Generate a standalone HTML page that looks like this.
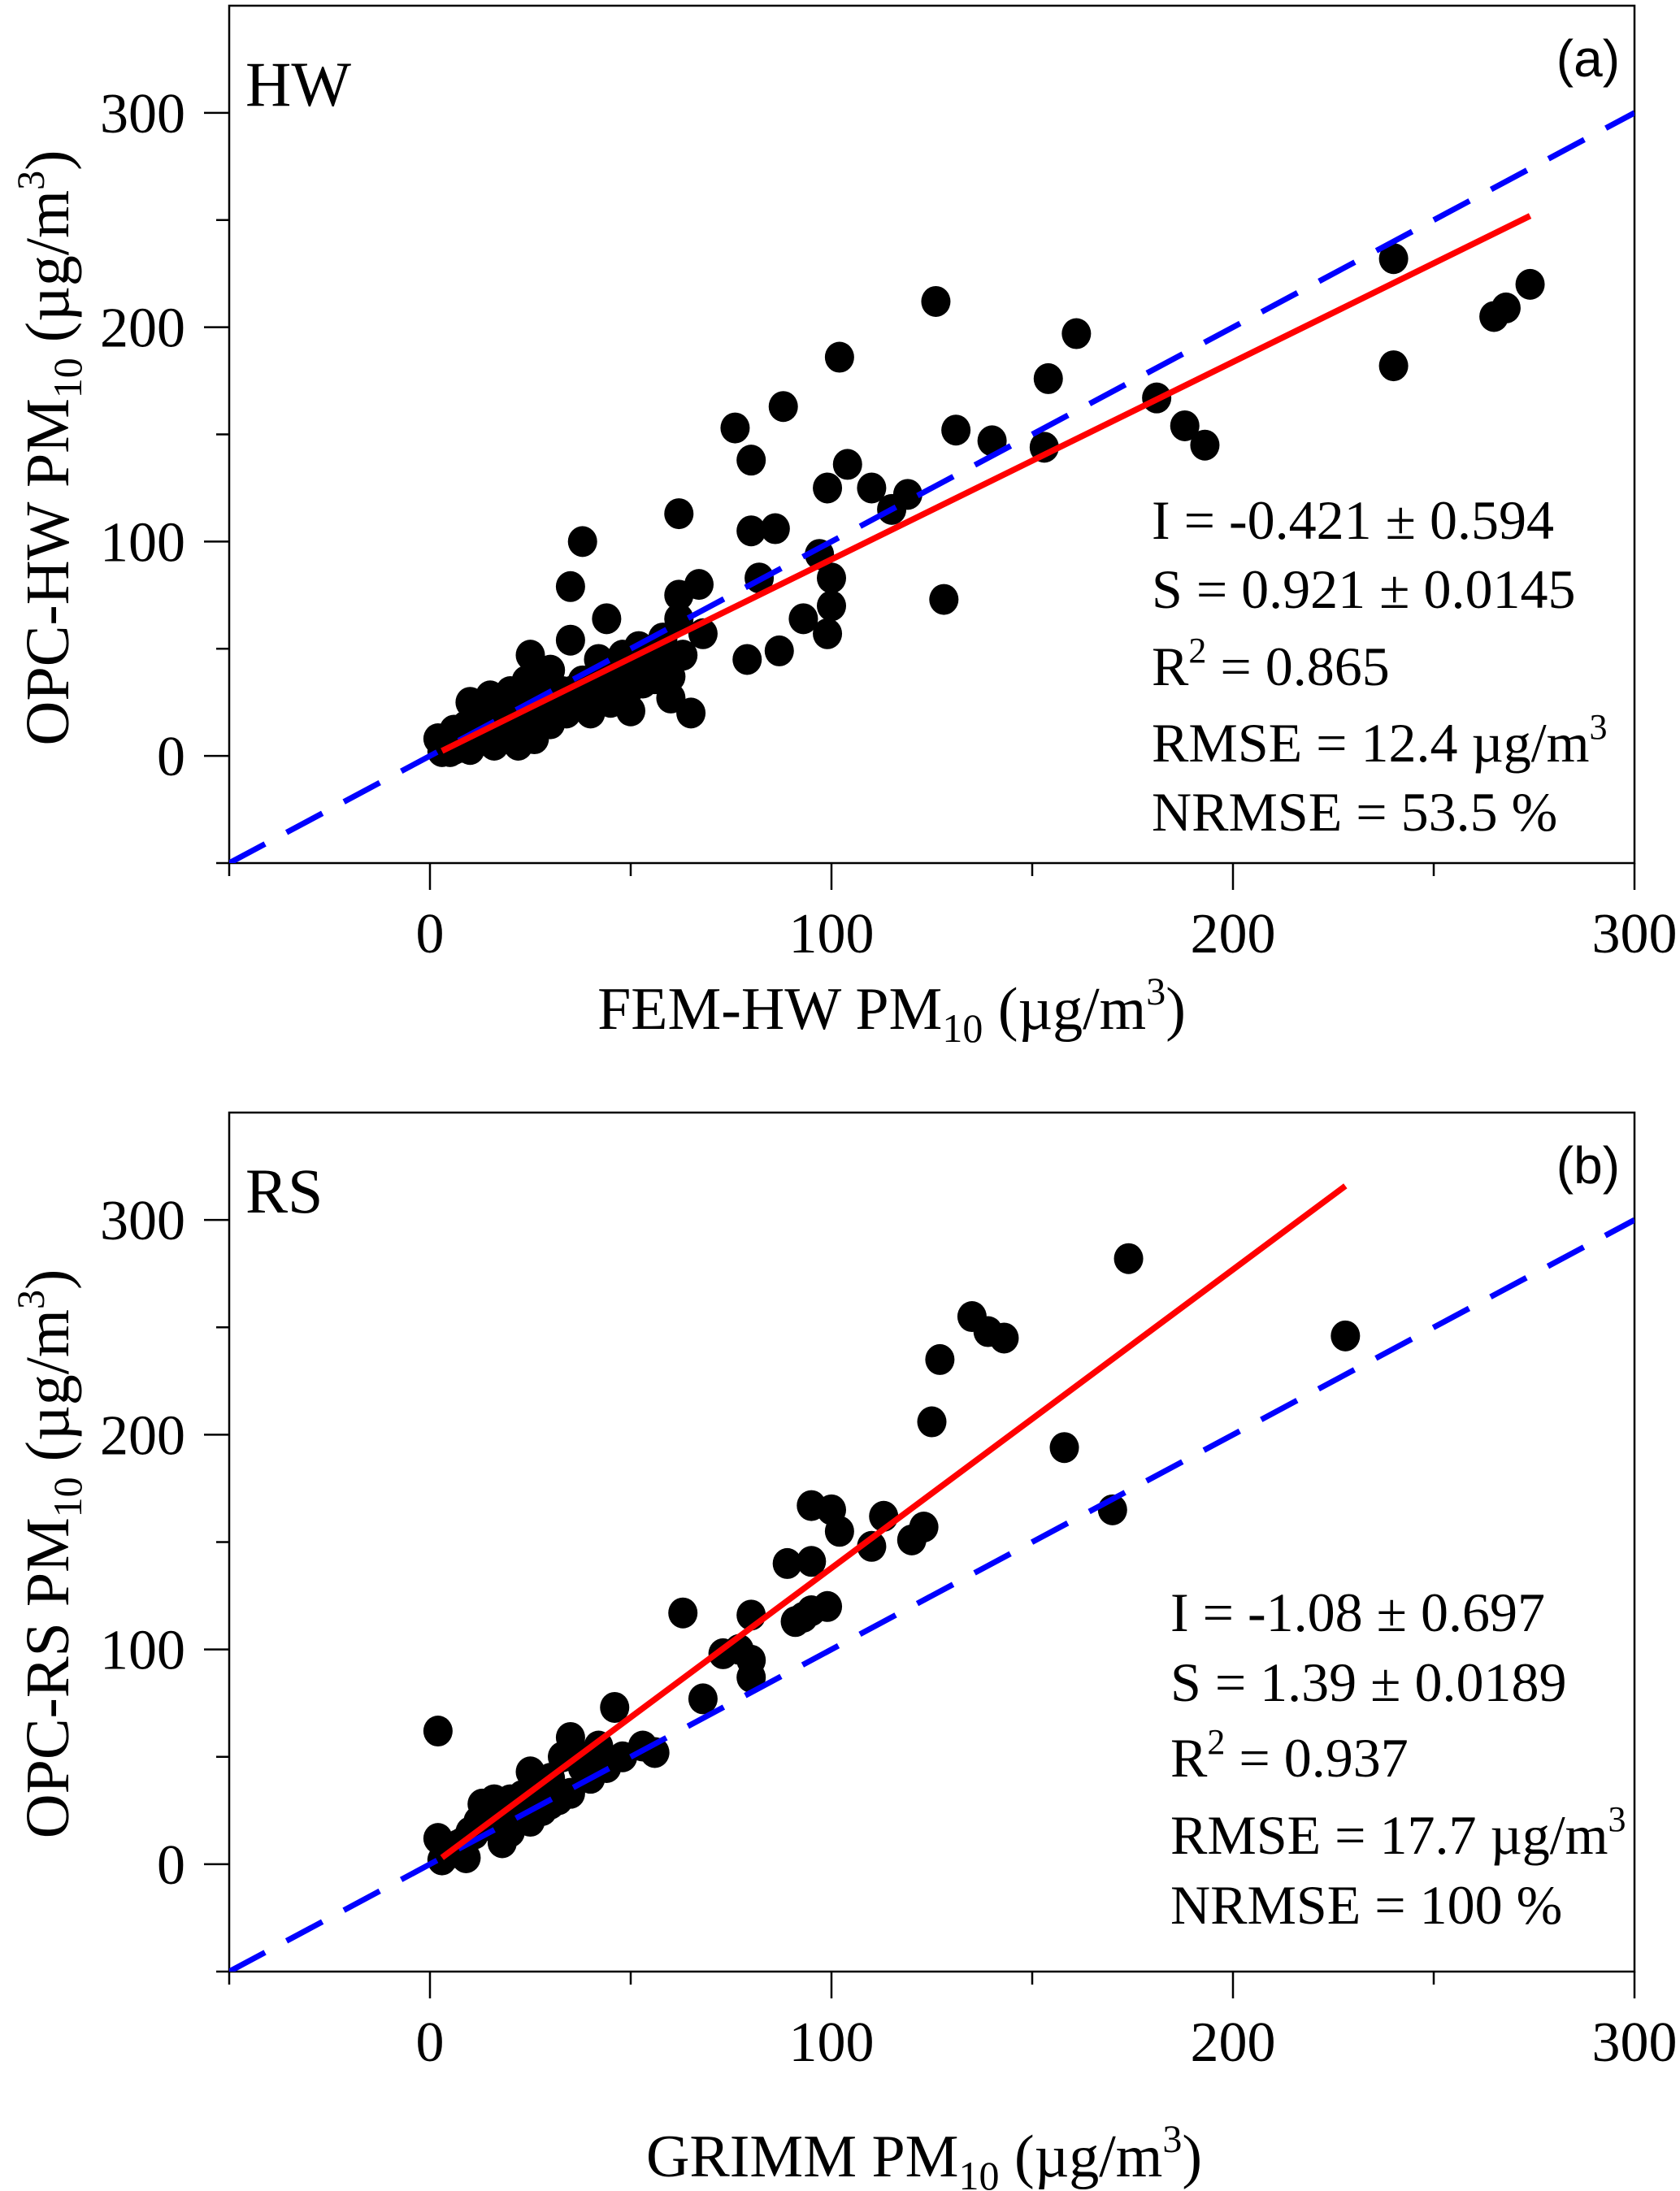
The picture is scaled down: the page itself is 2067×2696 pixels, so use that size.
<!DOCTYPE html>
<html><head><meta charset="utf-8">
<style>
html,body{margin:0;padding:0;background:#fff;}
svg{display:block;}
text{font-family:"Liberation Serif",serif;fill:#000;}
</style></head>
<body>
<svg id="chart" width="2067" height="2696" viewBox="0 0 2067 2696" xmlns="http://www.w3.org/2000/svg">
<g id="panelA"></g>
<g id="panelB"></g>
</svg>
<script>
const axisTicks = [0, 100, 200, 300];
const minorTicks = [-50, 50, 150, 250];
const hwFemX = [240,240,265,268,274,126,102,161,154,88,76,80,131,140,104,110,119,115,153,181,188,193,99,97,100,99,100,128,80,86,82,79,87,93,62,67,62,62,65,68,38,35,44,35,25,48,52,57,63,60,50,45,40,30,28,32,20,15,10,12,18,22,8,5,3,2,6,14,25,30,35,42,40,55,20,16,10,26,34,45,18,24,12,28,38,48,52,58,60,30,4,7,9,11,13,17,19,21,23,27,29,31,33,36,37,41,43,46,5,8,11,14,17,20,23,26,29,32,35,38,41,44,47,50,53,56,3,6,9,15,21,27];
const hwOpcY = [232,182,205,209,220,212,186,197,176,163,153,138,152,147,136,125,122,115,144,167,154,145,125,94,83,57,70,73,105,106,83,45,49,64,113,80,75,64,20,57,100,79,64,54,47,47,51,48,47,37,21,37,30,40,20,25,30,28,25,15,10,5,8,5,2,8,12,20,25,15,30,45,20,40,15,5,3,8,20,25,22,35,8,30,35,30,38,55,27,30,4,10,14,9,18,16,20,24,18,22,26,24,30,28,32,36,33,40,2,4,6,8,10,12,14,16,18,20,22,24,26,28,30,32,34,36,6,3,12,10,14,20];
const rsGrimmX = [2,63,68,73,77,80,80,80,95,100,89,95,91,95,99,93,102,110,113,120,123,125,127,135,139,143,158,170,174,228,46,35,36,40,44,48,53,56,30,25,27,30,20,15,12,10,8,5,3,2,18,22,33,38,25,28,35,16,13,6,9,20,42,32,24,4,7,11,14,17,19,21,23,26,29];
const rsOpcY = [62,117,77,98,100,116,87,95,167,165,140,141,113,118,120,115,155,148,162,151,157,206,235,255,248,245,194,165,282,246,73,59,52,40,45,50,55,52,40,43,35,28,30,25,20,15,10,5,2,12,10,22,50,45,20,25,33,30,28,8,3,15,55,30,28,4,9,14,18,24,26,28,32,34,38];
const fitA = [-0.421, 0.921]; const fitRangeA = [3, 274];
const fitB = [-1.08, 1.39]; const fitRangeB = [3, 228];

const NS = "http://www.w3.org/2000/svg";
function mk(parent, tag, attrs){ const e=document.createElementNS(NS,tag); for(const k in attrs) e.setAttribute(k,attrs[k]); parent.appendChild(e); return e; }

function drawPanel(g, cfg){
  const L=282, R=2011, T=cfg.top, B=cfg.bottom;
  const xs = v => L + (v+50)/350*(R-L);
  const ys = v => B - (v+50)/400*(B-T);
  const f = mk(g,'rect',{x:L,y:T,width:R-L,height:B-T,fill:'none',stroke:'#000','stroke-width':2.5});
   
  axisTicks.forEach(t=>{
    const a=mk(g,'line',{x1:L-31,x2:L,y1:ys(t),y2:ys(t),stroke:'#000','stroke-width':2.5});
     
    const b=mk(g,'line',{x1:xs(t),x2:xs(t),y1:B,y2:B+33,stroke:'#000','stroke-width':2.5});
     
    const yl=mk(g,'text',{x:228,y:ys(t)+24,'text-anchor':'end','font-size':70});
    yl.textContent=t;
     
    const xl=mk(g,'text',{x:xs(t),y:B+110,'text-anchor':'middle','font-size':70});
    xl.textContent=t;
     
  });
  minorTicks.forEach(t=>{
    const a=mk(g,'line',{x1:L-16,x2:L,y1:ys(t),y2:ys(t),stroke:'#000','stroke-width':2.5});
     
    const b=mk(g,'line',{x1:xs(t),x2:xs(t),y1:B,y2:B+16,stroke:'#000','stroke-width':2.5});
     
  });
  const cp=mk(g,'clipPath',{id:cfg.id+'clip'}); mk(cp,'rect',{x:L,y:T,width:R-L,height:B-T});
  const inner=mk(g,'g',{'clip-path':'url(#'+cfg.id+'clip)'});
  cfg.xv.forEach((x,i)=>{
    const c=mk(inner,'ellipse',{cx:xs(x),cy:ys(cfg.yv[i]),rx:18,ry:19,fill:'#000'});
     
  });
  const one=mk(inner,'line',{x1:xs(-50),y1:ys(-50),x2:xs(300),y2:ys(300),stroke:'#0000ff','stroke-width':7,'stroke-dasharray':'50 30'});
   
  const fx=cfg.fitRange, fp=cfg.fit;
  const fl=mk(inner,'line',{x1:xs(fx[0]),y1:ys(fp[0]+fp[1]*fx[0]),x2:xs(fx[1]),y2:ys(fp[0]+fp[1]*fx[1]),stroke:'#ff0000','stroke-width':7.5});
   
  const site=mk(g,'text',{x:302,y:T+123,'font-size':78}); site.textContent=cfg.site;
   
  const pl=mk(g,'text',{x:1993,y:T+87,'text-anchor':'end','font-size':64,style:'font-family:"Liberation Sans",sans-serif'}); pl.textContent=cfg.tag;
   
  const st=mk(g,'text',{'font-size':68});
   
  cfg.stats.forEach((s,i)=>{
    const ts=mk(st,'tspan',{x:cfg.statsX,y:cfg.statsY[i]}); ts.innerHTML=s;
  });
  const xt=mk(g,'text',{x:cfg.xtX,y:cfg.xtY,'text-anchor':'middle','font-size':74});
  xt.innerHTML=cfg.xTitle;
   
  const yt=mk(g,'text',{x:0,y:0,'text-anchor':'middle','font-size':76,transform:'translate(84,'+cfg.ytY+') rotate(-90)'});
  yt.innerHTML=cfg.yTitle;
   
}
const sub='<tspan dy="16" font-size="50">10</tspan><tspan dy="-16"> </tspan>';
const unit='(µg/m<tspan dy="-30" font-size="48">3</tspan><tspan dy="30">)</tspan>';
drawPanel(document.getElementById('panelA'),{
  id:'a',top:7,bottom:1062,xv:hwFemX,yv:hwOpcY,fit:fitA,fitRange:fitRangeA,site:'HW',tag:'(a)',
  statsX:1417,statsY:[663,748,843,937,1022],
  stats:['I = -0.421 ± 0.594','S = 0.921 ± 0.0145','R<tspan dy="-28" font-size="44">2</tspan><tspan dy="28"> = 0.865</tspan>','RMSE = 12.4 µg/m<tspan dy="-28" font-size="44">3</tspan>','NRMSE = 53.5 %'],
  xtX:1097,xtY:1266,xTitle:'FEM-HW PM'+sub+unit,
  ytY:551,yTitle:'OPC-HW PM'+sub+unit
});
drawPanel(document.getElementById('panelB'),{
  id:'b',top:1369,bottom:2426,xv:rsGrimmX,yv:rsOpcY,fit:fitB,fitRange:fitRangeB,site:'RS',tag:'(b)',
  statsX:1440,statsY:[2007,2093,2186,2281,2367],
  stats:['I = -1.08 ± 0.697','S = 1.39 ± 0.0189','R<tspan dy="-28" font-size="44">2</tspan><tspan dy="28"> = 0.937</tspan>','RMSE = 17.7 µg/m<tspan dy="-28" font-size="44">3</tspan>','NRMSE = 100 %'],
  xtX:1137,xtY:2678,xTitle:'GRIMM PM'+sub+unit,
  ytY:1912,yTitle:'OPC-RS PM'+sub+unit
});
</script>
</body></html>
